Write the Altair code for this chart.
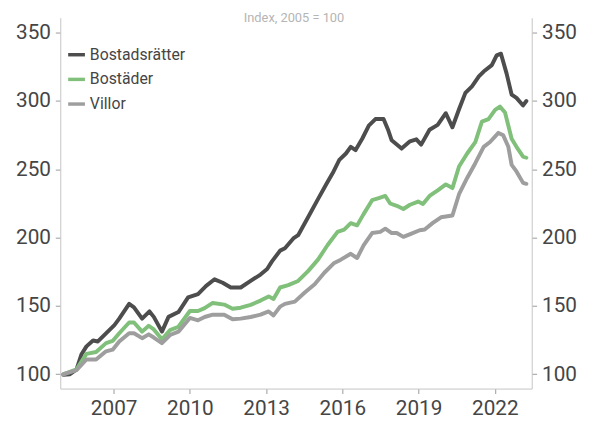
import altair as alt
import pandas as pd

# ---- data (index, 2005 = 100) ----
series_names = ["Bostadsrätter", "Bostäder", "Villor"]
series_colors = ["#4d4d4d", "#80c07a", "#9e9e9e"]

bostadsratter_t = [2005.02, 2005.28, 2005.54, 2005.73, 2005.93, 2006.19, 2006.38, 2006.7,
                   2007.03, 2007.22, 2007.61, 2007.8, 2008.12, 2008.41, 2008.58, 2008.9,
                   2009.16, 2009.55, 2009.93, 2010.32, 2010.64, 2010.97, 2011.29, 2011.61,
                   2012.0, 2012.39, 2012.78, 2013.04, 2013.23, 2013.55, 2013.74, 2014.07,
                   2014.26, 2014.65, 2015.04, 2015.36, 2015.62, 2015.88, 2016.14, 2016.33,
                   2016.52, 2016.78, 2017.04, 2017.3, 2017.62, 2017.81, 2017.94, 2018.33,
                   2018.66, 2018.91, 2019.1, 2019.43, 2019.75, 2020.07, 2020.33, 2020.59,
                   2020.84, 2021.1, 2021.37, 2021.56, 2021.88, 2022.07, 2022.24, 2022.46,
                   2022.66, 2022.85, 2023.11, 2023.24]
bostadsratter_v = [99.6, 100, 103.6, 114.4, 120.4, 124.7, 124, 130,
                   136, 140.7, 151.5, 149, 140.7, 146, 142, 131.2,
                   142, 145.5, 156.3, 158.7, 164.7, 169.5, 167, 163.5,
                   163.5, 168.3, 173, 177, 182.6, 190.5, 192.2, 199.4,
                   201.8, 214.9, 228.2, 238.9, 247.3, 256.9, 261.6, 266.5,
                   264.1, 272.4, 282, 286.8, 286.8, 278.4, 271.3, 265.2,
                   270.5, 272, 268.1, 279, 282.6, 291.1, 280.8, 294,
                   306, 310.8, 318, 321.6, 326.3, 333.5, 334.7, 320.3,
                   304.7, 302.3, 296.8, 300]

bostader_t = [2005.02, 2005.54, 2005.93, 2006.31, 2006.7, 2006.96, 2007.22, 2007.61,
              2007.8, 2008.12, 2008.38, 2008.58, 2008.9, 2009.22, 2009.55, 2010.0,
              2010.32, 2010.58, 2010.9, 2011.35, 2011.68, 2012.0, 2012.39, 2012.78,
              2013.1, 2013.29, 2013.55, 2013.87, 2014.26, 2014.65, 2015.04, 2015.42,
              2015.81, 2016.07, 2016.33, 2016.58, 2016.84, 2017.17, 2017.43, 2017.69,
              2017.88, 2018.14, 2018.4, 2018.66, 2018.98, 2019.17, 2019.43, 2019.75,
              2020.07, 2020.33, 2020.59, 2020.91, 2021.23, 2021.49, 2021.75, 2022.01,
              2022.2, 2022.4, 2022.66, 2022.85, 2023.11, 2023.24]
bostader_v = [100, 103.6, 114.9, 116.3, 122.8, 124.4, 130, 137.9,
              137.9, 131.2, 135.5, 132.8, 125.6, 132.3, 134.8, 146.3,
              146.3, 148.4, 152.2, 151, 147.9, 148.7, 150.8, 153.9,
              157, 155.1, 163.5, 165.2, 168.3, 175.5, 183.9, 194.6,
              204.2, 205.9, 210.6, 209, 217.4, 227.4, 228.9, 230.5,
              225, 223.3, 221, 224.1, 226.4, 224.6, 230.5, 234.6,
              239, 236.3, 252.1, 261.6, 270, 284.9, 286.8, 293.5,
              295.9, 291.6, 272.4, 266.5, 259.3, 258.5]

villor_t = [2005.02, 2005.54, 2005.93, 2006.31, 2006.7, 2006.96, 2007.22, 2007.61,
            2007.8, 2008.12, 2008.38, 2008.58, 2008.9, 2009.22, 2009.55, 2010.0,
            2010.32, 2010.58, 2010.9, 2011.35, 2011.68, 2012.0, 2012.39, 2012.78,
            2013.1, 2013.29, 2013.55, 2013.74, 2014.13, 2014.52, 2014.91, 2015.29,
            2015.68, 2015.94, 2016.33, 2016.58, 2016.84, 2017.17, 2017.49, 2017.69,
            2017.94, 2018.14, 2018.4, 2018.72, 2019.04, 2019.24, 2019.56, 2019.88,
            2020.33, 2020.59, 2020.91, 2021.23, 2021.56, 2021.81, 2022.14, 2022.33,
            2022.53, 2022.66, 2022.85, 2023.11, 2023.24]
villor_v = [100, 103, 110.8, 110.8, 116.8, 118, 124, 130,
            130, 126.4, 129.2, 126.9, 122.8, 128.7, 131.2, 141.2,
            139.5, 141.9, 143.6, 143.6, 140.2, 140.7, 141.9, 143.6,
            146, 143.1, 149.5, 151.5, 153.2, 159.9, 165.9, 174.3,
            181.5, 183.9, 188.2, 185.1, 194.6, 203.4, 204.2, 206.6,
            203.4, 203.4, 200.6, 203, 205.4, 206, 210.8, 214.9,
            216.2, 231.8, 243.7, 254.5, 266.5, 270, 276.7, 274.9,
            266.5, 253.3, 248.5, 240.1, 239.4]

x_ticks = [2007, 2010, 2013, 2016, 2019, 2022]
y_ticks = [100, 150, 200, 250, 300, 350]
title_text = "Index, 2005 = 100"

frames = []
for name, ts, vs in [(series_names[0], bostadsratter_t, bostadsratter_v),
                     (series_names[1], bostader_t, bostader_v),
                     (series_names[2], villor_t, villor_v)]:
    frames.append(pd.DataFrame({"t": ts, "v": vs, "s": name}))
df = pd.concat(frames, ignore_index=True)

FONT = "Roboto"
LABEL = "#454545"

x_enc = alt.X("t:Q",
              scale=alt.Scale(domain=[2004.9, 2023.45], nice=False, zero=False),
              axis=alt.Axis(values=x_ticks, format="d", title=None, grid=False,
                            labelFont=FONT, labelFontSize=21, labelColor=LABEL,
                            tickColor="#9a9a9a", tickSize=5, domainColor="#c4c4c4",
                            labelPadding=4))

y_scale = alt.Scale(domain=[89.5, 361], nice=False, zero=False)

def y_axis(orient):
    return alt.Axis(values=y_ticks, orient=orient, title=None, grid=False,
                    labelFont=FONT, labelFontSize=21, labelColor=LABEL,
                    tickColor="#9a9a9a", tickSize=5, domainColor="#c4c4c4",
                    labelPadding=5)

lines = alt.Chart(df).mark_line(strokeWidth=4, strokeJoin="round", strokeCap="round").encode(
    x=x_enc,
    y=alt.Y("v:Q", scale=y_scale, axis=y_axis("left")),
    color=alt.Color("s:N",
                    scale=alt.Scale(domain=series_names, range=series_colors),
                    sort=series_names,
                    legend=alt.Legend(title=None, orient="none", legendX=6, legendY=27,
                                      symbolType="stroke", symbolStrokeWidth=3.5,
                                      symbolSize=289, labelFont=FONT, labelFontSize=16,
                                      labelColor=LABEL, rowPadding=6, labelOffset=3,
                                      padding=0)),
    order=alt.Order("t:Q"),
)

right = alt.Chart(df).mark_line(opacity=0).encode(
    x=x_enc,
    y=alt.Y("v:Q", scale=y_scale, axis=y_axis("right")),
    detail="s:N",
)

title = alt.Chart(pd.DataFrame({"txt": [title_text]})).mark_text(
    font=FONT, fontSize=13, color="#b5b5b5", baseline="top", align="center"
).encode(x=alt.value(237), y=alt.value(-6), text="txt:N")

chart = alt.layer(lines, right, title).resolve_axis(y="independent").properties(
    width=478, height=376,
    autosize=alt.AutoSizeParams(type="none"),
    padding={"left": 53, "top": 7, "right": 52, "bottom": 31},
).configure_view(stroke=None)

chart.save("out.html", embed_options={"renderer": "svg", "actions": False})
